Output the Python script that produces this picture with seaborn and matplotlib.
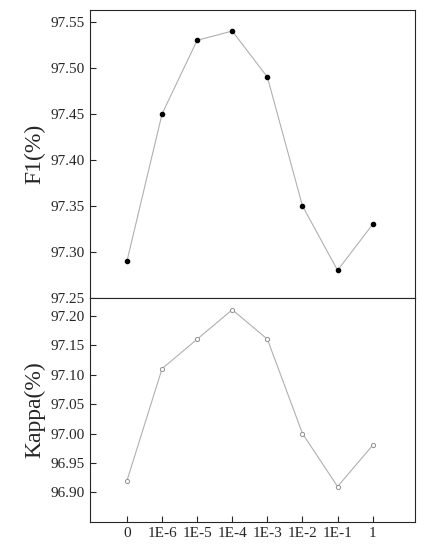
import matplotlib
matplotlib.use("Agg")
import matplotlib.pyplot as plt
import seaborn as sns
import pandas as pd

lambdas = ["0", "1E-6", "1E-5", "1E-4", "1E-3", "1E-2", "1E-1", "1"]
f1 = [97.29, 97.45, 97.53, 97.54, 97.49, 97.35, 97.28, 97.33]
kappa = [96.92, 97.11, 97.16, 97.21, 97.16, 97.00, 96.91, 96.98]

sns.set_style("ticks")
plt.rcParams["font.family"] = ["Liberation Serif", "DejaVu Serif"]

df = pd.DataFrame({"x": range(len(lambdas)), "F1": f1, "Kappa": kappa})

fig, (ax1, ax2) = plt.subplots(2, 1, figsize=(4.25, 5.5), dpi=100, sharex=True,
                               gridspec_kw={"height_ratios": [288, 224], "hspace": 0})
fig.subplots_adjust(left=0.212, right=0.976, top=0.982, bottom=0.051)

sns.lineplot(data=df, x="x", y="F1", ax=ax1, color="#b0b0b0", lw=0.8)
ax1.scatter(df["x"], df["F1"], s=9, color="black", zorder=3)
sns.lineplot(data=df, x="x", y="Kappa", ax=ax2, color="#b0b0b0", lw=0.8)
ax2.scatter(df["x"], df["Kappa"], s=9, facecolors="white", edgecolors="#909090",
            linewidths=0.7, zorder=3)

ax1.set_ylim(97.25, 97.563)
ax1.set_yticks([97.25, 97.30, 97.35, 97.40, 97.45, 97.50, 97.55])
ax2.set_ylim(96.85, 97.23)
ax2.set_yticks([96.90, 96.95, 97.00, 97.05, 97.10, 97.15, 97.20])
ax2.set_xlim(-1.05, 8.2)
ax2.set_xticks(range(len(lambdas)))
ax2.set_xticklabels(lambdas)

ax1.set_ylabel("F1(%)", fontsize=17)
ax2.set_ylabel("Kappa(%)", fontsize=17)
ax1.set_xlabel("")
ax2.set_xlabel("")
for ax in (ax1, ax2):
    ax.yaxis.set_major_formatter(matplotlib.ticker.FormatStrFormatter("%.2f"))
    ax.tick_params(direction="in", labelsize=11, length=4)
    for s in ax.spines.values():
        s.set_visible(True)
        s.set_linewidth(0.8)
ax1.tick_params(axis="x", bottom=False)

fig.savefig("out.png", dpi=100)
